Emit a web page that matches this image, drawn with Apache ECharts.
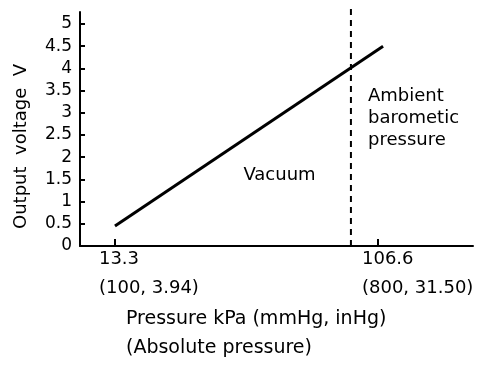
<!DOCTYPE html>
<html>
<head>
<meta charset="utf-8">
<script src="https://cdn.jsdelivr.net/npm/echarts@6/dist/echarts.min.js"></script>
<style>
html,body{margin:0;padding:0;background:#fff;}
#c{width:496px;height:366px;}
</style>
</head>
<body>
<div id="c"></div>
<script>
// Data
const pressureKPa = [13.3, 108.4];
const outputVoltage = [0.45, 4.5];
const ambientPressureKPa = 97;
const xTickValues = [13.3, 106.6];
const xTickLabels = ['13.3\n(100, 3.94)', '106.6\n(800, 31.50)'];
const yTickValues = [0, 0.5, 1, 1.5, 2, 2.5, 3, 3.5, 4, 4.5, 5];
const yTickLabels = ['0', '0.5', '1', '1.5', '2', '2.5', '3', '3.5', '4', '4.5', '5'];
const xAxisName = 'Pressure kPa (mmHg, inHg)\n(Absolute pressure)';
const yAxisName = 'Output  voltage  V';
const annotations = ['Vacuum', 'Ambient\nbarometic\npressure'];

const FONT = 'DejaVu Sans';
const lineData = pressureKPa.map((p, i) => [p, outputVoltage[i]]);
const dashData = [[ambientPressureKPa, 0], [ambientPressureKPa, 5.43]];

const chart = echarts.init(document.getElementById('c'), null, {renderer: 'canvas'});
chart.setOption({
  animation: false,
  backgroundColor: '#fff',
  grid: {left: 80, right: 23, top: 12, bottom: 120, containLabel: false},
  xAxis: {
    type: 'value',
    min: 0.9,
    max: 140.3,
    splitLine: {show: false},
    axisLine: {show: true, onZero: false, lineStyle: {color: '#000', width: 2}},
    axisTick: {show: true, inside: true, length: 7, customValues: xTickValues, lineStyle: {color: '#000', width: 2}},
    axisLabel: {
      show: true,
      customValues: xTickValues,
      margin: -1,
      formatter: function (v) {
        const i = xTickValues.indexOf(v);
        if (i < 0) return '';
        return xTickLabels[i].split('\n').map(s => '{a|' + s + '}').join('\n');
      },
      rich: {a: {width: 32, align: 'left', fontFamily: FONT, fontSize: 18, lineHeight: 29, color: '#000'}}
    },
    name: xAxisName,
    nameLocation: 'start',
    nameGap: -46,
    nameMoveOverlap: false,
    nameTextStyle: {align: 'left', verticalAlign: 'top', padding: [59, 0, 0, 0], fontFamily: FONT, fontSize: 19, lineHeight: 29, color: '#000'}
  },
  yAxis: {
    type: 'value',
    min: 0,
    max: 5.27,
    splitLine: {show: false},
    axisLine: {show: true, onZero: false, lineStyle: {color: '#000', width: 2}},
    axisTick: {show: true, inside: true, length: 5, customValues: yTickValues, lineStyle: {color: '#000', width: 2}},
    axisLabel: {
      show: true,
      customValues: yTickValues,
      margin: 8,
      fontFamily: FONT,
      fontSize: 17,
      color: '#000',
      formatter: function (v) {
        const i = yTickValues.indexOf(v);
        return i < 0 ? '' : yTickLabels[i];
      }
    },
    name: yAxisName,
    nameLocation: 'middle',
    nameGap: 50,
    nameMoveOverlap: false,
    nameTextStyle: {fontFamily: FONT, fontSize: 18, color: '#000', padding: [0, 35, 0, 0]}
  },
  series: [
    {
      type: 'line',
      data: lineData,
      symbol: 'none',
      lineStyle: {color: '#000', width: 3},
      markPoint: {
        symbol: 'circle',
        symbolSize: 0,
        data: [
          {coord: [71.67, 1.6], label: {show: true, formatter: annotations[0], position: 'inside', fontFamily: FONT, fontSize: 18, color: '#000'}},
          {coord: [103.06, 2.87], label: {show: true, formatter: annotations[1], position: 'inside', align: 'left', fontFamily: FONT, fontSize: 18, lineHeight: 22, color: '#000'}}
        ]
      }
    },
    {
      type: 'line',
      data: dashData,
      symbol: 'none',
      clip: false,
      lineStyle: {color: '#000', width: 2, type: [6, 5]}
    }
  ]
});
</script>
</body>
</html>
